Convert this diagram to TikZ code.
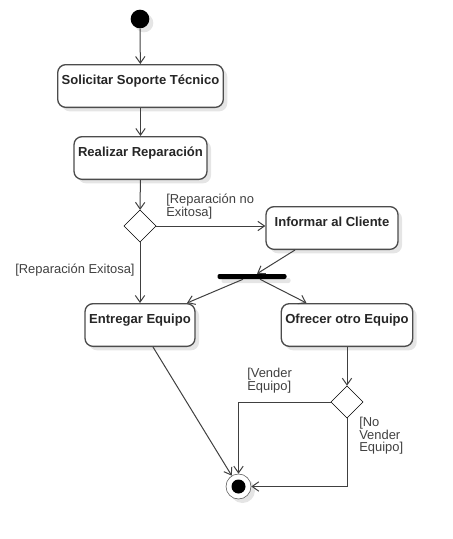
\documentclass[tikz,border=0pt]{standalone}
\usepackage{fontspec}
\setmainfont{Liberation Sans}
\usetikzlibrary{arrows.meta,shapes.geometric,shadows}

\begin{document}
\begin{tikzpicture}[
    x=0.75pt, y=-0.75pt,
    font=\fontsize{9.7}{9.4}\selectfont,
    boxshadow/.style={drop shadow={shadow xshift=3pt, shadow yshift=-3pt, fill=black!10, opacity=1}},
    act/.style={rounded corners=6pt, draw=black!70, line width=1pt, fill=white, boxshadow, minimum height=30pt, inner xsep=3pt, inner ysep=2pt, text height=12.5pt, text depth=15.5pt, font=\fontsize{9.8}{9.4}\selectfont\bfseries, text=black!85},
    decision/.style={diamond, aspect=1, draw=black, fill=white, minimum width=24pt, minimum height=24pt, inner sep=0pt},
    initial/.style={circle, fill=black, minimum size=14pt, inner sep=0pt, boxshadow},
    final/.style={circle, draw=black!70, fill=white, minimum size=18.75pt, inner sep=0pt, boxshadow, path picture={\fill[black] (path picture bounding box.center) circle (5.25pt);}},
    bar/.style={rectangle, rounded corners=1.5pt, fill=black, minimum width=51.75pt, minimum height=3.75pt, inner sep=0pt, boxshadow},
    guard/.style={align=left, text=black!75, inner sep=0pt},
    arr/.style={-{Straight Barb[length=5pt, width=7pt]}, draw=black!75, line width=0.75pt},
  ]
    \useasboundingbox (0,0) rectangle (453,539);

    \node[initial] (start) at (140,19) {};
    \node[act, minimum width=123.75pt] (sol) at (140.5,86) {Solicitar Soporte Técnico};
    \node[act, minimum width=99.75pt] (rea) at (140.5,158) {Realizar Reparación};
    \node[decision] (d1) at (140,226) {};
    \node[act, minimum width=99pt] (inf) at (332,228) {Informar al Cliente};
    \node[bar] (fork) at (252,276.5) {};
    \node[act, minimum width=82.5pt] (ent) at (140,325) {Entregar Equipo};
    \node[act, minimum width=98.25pt] (ofr) at (347,325) {Ofrecer otro Equipo};
    \node[decision] (d2) at (347,402) {};
    \node[final] (fin) at (238.5,486.5) {};

    % guards
    \node[guard, anchor=north west] (gnofix) at (166,194) {[Reparación no\\Exitosa]};
    \node[guard, anchor=north west] (gfix) at (15,264) {[Reparación Exitosa]};
    \node[guard, anchor=north west] (gsell) at (247,368) {[Vender\\Equipo]};
    \node[guard, anchor=north west] (gnosell) at (359,417) {[No\\Vender\\Equipo]};

    \draw[arr] (start) -- (sol);
    \draw[arr] (sol) -- (rea);
    \draw[arr] (rea) -- (d1);
    \draw[arr] (d1.east) -- (inf.west |- d1.east);
    \draw[arr] (d1) -- (ent);
    \draw[arr] ([xshift=-27.75pt]inf.south) -- ([xshift=3.75pt]fork.north);
    \draw[arr] ([xshift=-6.75pt]fork.south) -- ([xshift=35.25pt]ent.north);
    \draw[arr] ([xshift=6pt]fork.south) -- ([xshift=-30.4pt]ofr.north);
    \draw[arr] ([xshift=9.75pt]ent.south) -- (fin.122);
    \draw[arr] (ofr) -- (d2);
    \draw[arr] (d2.west) -| (fin.north);
    \draw[arr] (d2.south) |- (fin.east);
  \end{tikzpicture}
\end{document}
